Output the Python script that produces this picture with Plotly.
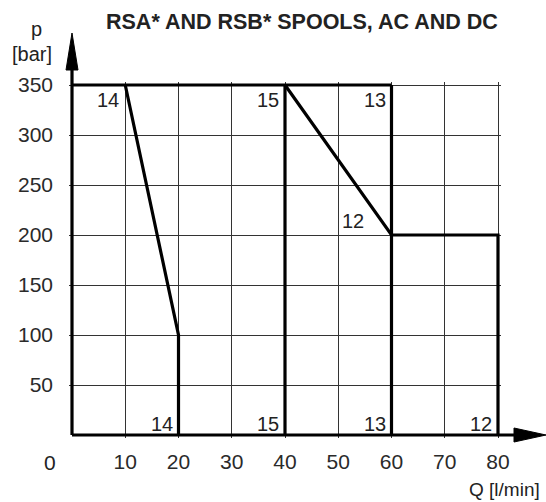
import plotly.graph_objects as go

# ---- data ----
q_14 = [10, 20, 20]
p_14 = [350, 100, 0]
q_15 = [40, 40]
p_15 = [0, 350]
q_13 = [60, 60]
p_13 = [0, 350]
q_12 = [40, 60, 80, 80]
p_12 = [350, 200, 200, 0]
q_max = [0, 60]
p_max = [350, 350]

label_text = ["14", "15", "13", "12", "14", "15", "13", "12"]
label_q = [10, 40, 60, 56, 20, 40, 60, 80]
label_p = [335, 335, 335, 214, 11, 11, 11, 11]

x_ticks = [10, 20, 30, 40, 50, 60, 70, 80]
y_ticks = [50, 100, 150, 200, 250, 300, 350]

W, H = 546, 502
ML, MR, MT, MB = 69, 45, 82, 64
PW, PH = W - ML - MR, H - MT - MB
X0PIX, X80PIX = 72, 498
Y0PIX, Y350PIX = 435, 85
xscale = (X80PIX - X0PIX) / 80.0
yscale = (Y0PIX - Y350PIX) / 350.0
xr = [-(X0PIX - ML) / xscale, -(X0PIX - ML) / xscale + PW / xscale]
yr = [-((H - MB) - Y0PIX) / yscale, -((H - MB) - Y0PIX) / yscale + PH / yscale]


def px(x):
    return (x - ML) / PW


def py(y):
    return ((H - MB) - y) / PH


FONT = "Liberation Sans, Arial, sans-serif"
fig = go.Figure()
for q, p in [(q_max, p_max), (q_14, p_14), (q_15, p_15), (q_13, p_13), (q_12, p_12)]:
    fig.add_trace(go.Scatter(x=q, y=p, mode="lines",
                             line=dict(color="black", width=3.2),
                             showlegend=False, hoverinfo="skip"))

for t, q, p in zip(label_text, label_q, label_p):
    fig.add_annotation(x=q, y=p, text=t, showarrow=False, xanchor="right",
                       yanchor="middle", xshift=-4,
                       font=dict(family=FONT, size=20, color="#222"))

shapes = []
# y axis line + arrow
shapes.append(dict(type="line", xref="paper", yref="paper",
                   x0=px(X0PIX), x1=px(X0PIX), y0=py(Y0PIX), y1=py(68),
                   line=dict(color="black", width=3.2)))
shapes.append(dict(type="path", xref="paper", yref="paper",
                   path=f"M {px(X0PIX-6)} {py(70)} L {px(X0PIX+6)} {py(70)} L {px(X0PIX)} {py(33)} Z",
                   fillcolor="black", line=dict(color="black", width=1)))
# x axis line + arrow
shapes.append(dict(type="line", xref="paper", yref="paper",
                   x0=px(X0PIX), x1=px(517), y0=py(Y0PIX), y1=py(Y0PIX),
                   line=dict(color="black", width=3.2)))
shapes.append(dict(type="path", xref="paper", yref="paper",
                   path=f"M {px(514)} {py(Y0PIX-7)} L {px(514)} {py(Y0PIX+7)} L {px(546)} {py(Y0PIX)} Z",
                   fillcolor="black", line=dict(color="black", width=1)))
fig.update_layout(shapes=shapes)

texts = [
    dict(x=px(302), y=py(22), text="<b>RSA* AND RSB* SPOOLS, AC AND DC</b>", size=21.5, xanchor="center"),
    dict(x=px(36), y=py(29), text="p", size=20, xanchor="center"),
    dict(x=px(32), y=py(54), text="[bar]", size=20, xanchor="center"),
    dict(x=px(50), y=py(462), text="0", size=21, xanchor="center"),
    dict(x=px(542), y=py(490), text="Q [l/min]", size=19, xanchor="right"),
]
for a in texts:
    fig.add_annotation(x=a["x"], y=a["y"], xref="paper", yref="paper", text=a["text"],
                       showarrow=False, xanchor=a["xanchor"], yanchor="middle",
                       font=dict(family=FONT, size=a["size"], color="#222"))

fig.update_xaxes(range=xr, tickvals=x_ticks, showgrid=True, gridcolor="#333", gridwidth=1.4,
                 zeroline=False, showline=False, ticks="", ticklabelstandoff=9,
                 tickfont=dict(family=FONT, size=21, color="#2a2a2a"), fixedrange=True)
fig.update_yaxes(range=yr, tickvals=y_ticks, showgrid=True, gridcolor="#333", gridwidth=1.4,
                 zeroline=False, showline=False, ticks="", ticklabelstandoff=15,
                 tickfont=dict(family=FONT, size=21, color="#2a2a2a"), fixedrange=True)
fig.update_layout(width=W, height=H, margin=dict(l=ML, r=MR, t=MT, b=MB),
                  plot_bgcolor="white", paper_bgcolor="white", showlegend=False)
fig.write_html("out.html", config={"displayModeBar": False},
               post_script="document.body.style.margin='0px';document.body.style.padding='0px';")
